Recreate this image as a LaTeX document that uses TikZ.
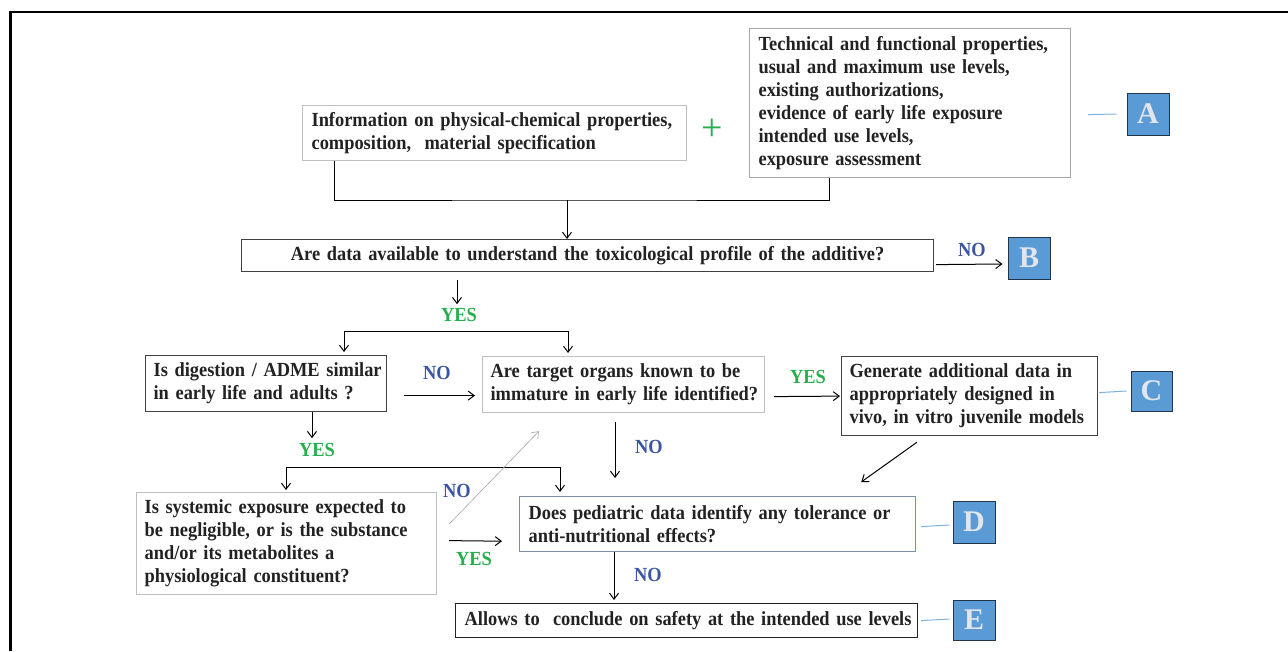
\documentclass[tikz,border=0pt]{standalone}
\usepackage{fontspec}
\setmainfont[FakeStretch=0.92]{Liberation Serif}
\newfontfamily\plainserif{Liberation Serif}
\usetikzlibrary{arrows.meta,calc}
\definecolor{txt}{HTML}{222222}
\definecolor{lgray}{HTML}{BFBFBF}
\definecolor{mgray}{HTML}{A6A6A6}
\definecolor{dgray}{HTML}{404040}
\definecolor{slate}{HTML}{7F8EA8}
\definecolor{noblue}{HTML}{3A55A4}
\definecolor{yesgreen}{HTML}{25B04C}
\definecolor{letterfill}{HTML}{5B9BD5}
\definecolor{letterdraw}{HTML}{22354A}
\definecolor{lettertext}{HTML}{E2E6EC}
\definecolor{linkblue}{HTML}{7DB3E3}
\begin{document}
\begin{tikzpicture}[x=1pt,y=-1pt,
  box/.style={draw, line width=1.2pt, anchor=north west, inner xsep=8pt, inner ysep=0pt,
    align=left, font=\fontsize{20}{23}\selectfont\bfseries, text=txt},
  letterbox/.style={draw=letterdraw, line width=1pt, fill=letterfill, minimum width=42pt, minimum height=42pt,
    inner sep=0pt, font=\plainserif\fontsize{30}{30}\selectfont\bfseries, text=lettertext},
  lbl/.style={inner sep=2pt, font=\fontsize{20}{20}\selectfont\bfseries},
  no/.style={lbl, text=noblue},
  yes/.style={lbl, text=yesgreen},
  conn/.style={line width=1pt, draw=black},
  arr/.style={conn, -{Straight Barb[length=6pt,width=9pt]}},
  arrthin/.style={line width=0.6pt, draw=mgray, -{Straight Barb[length=6pt,width=9pt]}},
  lnk/.style={line width=1pt, draw=linkblue}]
\useasboundingbox (0,0) rectangle (1288,651);
\fill[white] (0,0) rectangle (1288,651);
% frame
\draw[line width=2.5pt] (10.7,651) -- (10.7,12.2) -- (1288,12.2);

% boxes
\node[box, draw=lgray, text width=366pt, minimum height=55pt, inner xsep=9pt] (info) at (302,105)
  {\mbox{Information on physical-chemical properties,}\\\mbox{composition,\ \ material specification}};
\node[box, draw=mgray, text width=303pt, minimum height=149pt, inner xsep=9pt] (tech) at (749,28)
  {\mbox{Technical and functional properties,}\\\mbox{usual and maximum use levels,}\\\mbox{existing authorizations,}\\\mbox{evidence of early life exposure}\\\mbox{intended use levels,}\\\mbox{exposure assessment}};
\node[box, draw=dgray, text width=676pt, minimum height=32pt, align=center] (q1) at (241,239)
  {\mbox{Are data available to understand the toxicological profile of the additive?}};
\node[box, draw=dgray, text width=225pt, minimum height=56pt] (dig) at (145,355)
  {\mbox{Is digestion / ADME similar}\\\mbox{in early life and adults ?}};
\node[box, draw=lgray, text width=266pt, minimum height=56pt] (target) at (482,356)
  {\mbox{Are target organs known to be}\\\mbox{immature in early life identified?}};
\node[box, draw=dgray, text width=240pt, minimum height=79pt] (gen) at (841,356)
  {\mbox{Generate additional data in}\\\mbox{appropriately designed in}\\\mbox{vivo, in vitro juvenile models}};
\node[box, draw=lgray, text width=284pt, minimum height=102pt] (sys) at (136,492)
  {\mbox{Is systemic exposure expected to}\\\mbox{be negligible, or is the substance}\\\mbox{and/or its metabolites a}\\\mbox{physiological constituent?}};
\node[box, draw=slate, text width=378pt, minimum height=55pt, inner xsep=9pt] (ped) at (519,496)
  {\mbox{Does pediatric data identify any tolerance or}\\\mbox{anti-nutritional effects?}};
\node[box, draw=txt, text width=444pt, minimum height=34pt, inner xsep=9pt] (allows) at (455,603)
  {\mbox{Allows to\ \ conclude on safety at the intended use levels}};

% letter boxes
\node[letterbox] (A) at (1148,114) {A};
\node[letterbox] (B) at (1029,258) {B};
\node[letterbox, minimum width=41pt, minimum height=40pt] (C) at (1151.5,391) {C};
\node[letterbox, minimum height=42pt] (D) at (974,522) {D};
\node[letterbox, minimum height=40pt] (E) at (974,620) {E};

% plus
\node[inner sep=0pt, text=yesgreen, font=\plainserif\fontsize{38}{38}\selectfont] (plus) at (712,130) {+};

% labels
\node[no] (no1) at (972,250) {NO};
\node[yes] (yes1) at (459,315) {YES};
\node[no] (no2) at (437,373) {NO};
\node[yes] (yes2) at (808,377) {YES};
\node[yes] (yes3) at (317,450) {YES};
\node[no] (no3) at (649,447) {NO};
\node[no] (no4) at (457,491) {NO};
\node[yes] (yes4) at (474,559) {YES};
\node[no] (no5) at (648,575) {NO};

% connectors
\coordinate (j1) at (567,200);
\draw[conn] ($(info.south west)+(32,0)$) |- (j1) -| ($(tech.south west)+(80,0)$);
\draw[arr] (j1) -- (j1 |- q1.north);

\draw[arr] ($(q1.east)+(2,9)$) -- ($(B.west)+(-5,6)$);

\draw[arr] ($(q1.south west)+(216,8)$) -- ($(q1.south west)+(216,32)$);

\coordinate (s1) at (457,331);
\draw[arr] (s1) -| ($(dig.north west)+(199,-3)$);
\draw[arr] (s1) -| ($(target.north west)+(86,-3)$);

\draw[arr] ($(dig.east)+(17,12)$) -- ($(target.west)+(-7,11)$);
\draw[arr] ($(target.east)+(9,12)$) -- ($(gen.west)+(-1,0)$);

\draw[arr] ($(dig.south west)+(167,0)$) -- ($(dig.south west)+(167,26)$);

\coordinate (s2) at (420,467);
\draw[arr] (s2) -| ($(sys.north west)+(150,-2)$);
\draw[arr] (s2) -| ($(ped.north west)+(41,-4)$);

\draw[arr] ($(target.south west)+(133,9)$) -- ($(ped.north west)+(96,-18)$);
\draw[arr] ($(gen.south west)+(76,6)$) -- ($(ped.north east)+(-55,-14)$);
\draw[arrthin] ($(sys.north east)+(12,32)$) -- ($(target.south west)+(57,18)$);
\draw[arr] ($(sys.east)+(12,-3)$) -- ($(ped.south west)+(-17,-11)$);
\draw[arr] ($(ped.south west)+(95,0)$) -- ($(allows.north west)+(159,-3)$);

% links to letters
\draw[lnk] ($(tech.east)+(17,11.5)$) -- ($(A.west)+(-10,0)$);
\draw[lnk] ($(gen.east)+(1,-3.5)$) -- ($(C.west)+(-4,0)$);
\draw[lnk] ($(ped.east)+(5,2.5)$) -- ($(D.west)+(-3,3)$);
\draw[lnk] ($(allows.east)+(3,0)$) -- ($(E.west)+(-3,-1)$);
\end{tikzpicture}
\end{document}
